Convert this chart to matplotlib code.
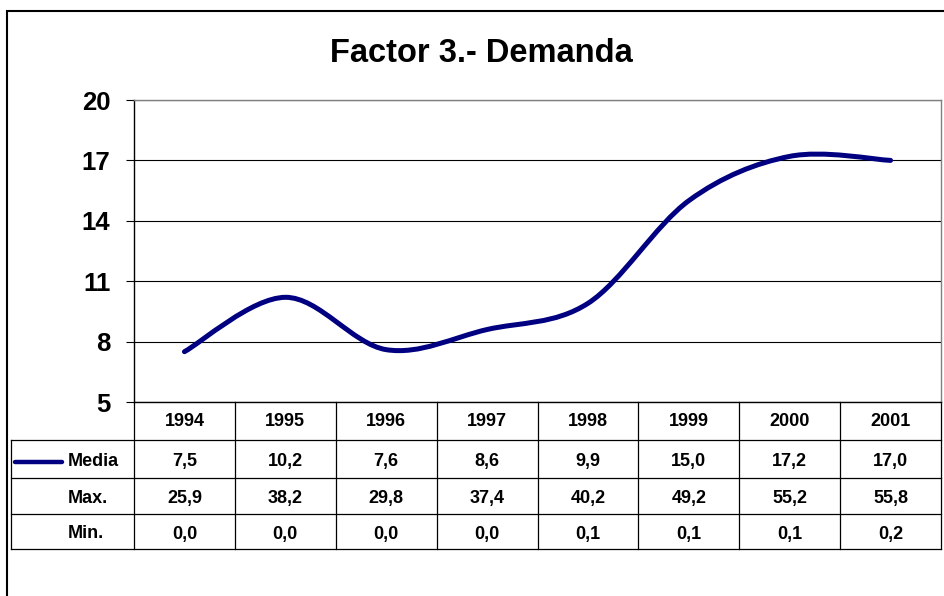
import matplotlib
matplotlib.use('Agg')
import matplotlib.pyplot as plt
from matplotlib.path import Path
from matplotlib.patches import PathPatch, Rectangle
from matplotlib.lines import Line2D

years = ['1994', '1995', '1996', '1997', '1998', '1999', '2000', '2001']
media = [7.5, 10.2, 7.6, 8.6, 9.9, 15.0, 17.2, 17.0]
maximo = [25.9, 38.2, 29.8, 37.4, 40.2, 49.2, 55.2, 55.8]
minimo = [0.0, 0.0, 0.0, 0.0, 0.1, 0.1, 0.1, 0.2]
row_labels = ['Media', 'Max.', 'Min.']
y_ticks = [5, 8, 11, 14, 17, 20]

W, H = 944, 596
NAVY = '#000080'
FONT = 'Liberation Sans'


def fmt(v):
    # spanish decimal comma
    return f'{v:.1f}'.replace('.', ',')


def smooth_path(xs, ys):
    # excel style smoothed line, bezier with catmull-rom control points
    n = len(xs)
    verts = [(xs[0], ys[0])]
    codes = [Path.MOVETO]
    for i in range(n - 1):
        xa, ya = (xs[i - 1], ys[i - 1]) if i > 0 else (xs[i], ys[i])
        xb, yb = (xs[i + 2], ys[i + 2]) if i + 2 < n else (xs[i + 1], ys[i + 1])
        c1 = (xs[i] + (xs[i + 1] - xa) / 6, ys[i] + (ys[i + 1] - ya) / 6)
        c2 = (xs[i + 1] - (xb - xs[i]) / 6, ys[i + 1] - (yb - ys[i]) / 6)
        verts += [c1, c2, (xs[i + 1], ys[i + 1])]
        codes += [Path.CURVE4] * 3
    return Path(verts, codes)


fig = plt.figure(figsize=(W / 100, H / 100), dpi=100)

# axes box in pixels: x 134..941, y 100..402
ax_l, ax_r, ax_t, ax_b = 134, 941, 100, 402
ax = fig.add_axes([ax_l / W, 1 - ax_b / H, (ax_r - ax_l) / W, (ax_b - ax_t) / H])


def ay(py):
    # pixel row -> axes fraction
    return (ax_b - py) / (ax_b - ax_t)


def fx(px):
    return px / W


def fy(py):
    return 1 - py / H


xs = list(range(len(years)))
ax.add_patch(PathPatch(smooth_path(xs, media), facecolor='none',
                       edgecolor=NAVY, lw=3.6, capstyle='round', zorder=3))

ax.set_xlim(-0.5, len(years) - 0.5)
ax.set_ylim(5, 20)
ax.set_yticks(y_ticks)
ax.set_yticklabels([str(t) for t in y_ticks], fontsize=18.5,
                   fontweight='bold', family=FONT)
ax.tick_params(axis='y', length=6, width=0.8, pad=11, color='black')
ax.set_xticks([])
ax.yaxis.grid(True, color='black', lw=0.8)
ax.set_axisbelow(True)
ax.spines['left'].set_color('black')
ax.spines['bottom'].set_color('black')
ax.spines['top'].set_color('#808080')
ax.spines['right'].set_color('#808080')
for s in ax.spines.values():
    s.set_linewidth(1)

# data table below the plot
rows_px = [402, 440, 478, 514, 549]
tr = ax.get_xaxis_transform()
lk = dict(color='black', lw=0.9, clip_on=False)

for i in range(len(years) + 1):
    ax.plot([i - 0.5, i - 0.5], [ay(rows_px[0]), ay(rows_px[-1])], transform=tr, **lk)
for py in rows_px[1:]:
    fig.add_artist(Line2D([fx(11), fx(ax_r)], [fy(py), fy(py)], color='black', lw=0.9))
fig.add_artist(Line2D([fx(11), fx(11)], [fy(rows_px[1]), fy(rows_px[-1])], color='black', lw=0.9))

tk = dict(fontsize=13, fontweight='bold', family=FONT, ha='center', va='center')
for i, yr in enumerate(years):
    ax.text(i, ay((rows_px[0] + rows_px[1]) / 2), yr, transform=tr, **tk)
for r, vals in enumerate([media, maximo, minimo]):
    yp = (rows_px[r + 1] + rows_px[r + 2]) / 2 + 2.5
    for i, v in enumerate(vals):
        ax.text(i, ay(yp), fmt(v), transform=tr, **tk)
    fig.text(fx(68), fy(yp), row_labels[r],
             fontsize=13, fontweight='bold', family=FONT, ha='left', va='center')

# legend key for Media
ym = fy(461.5)
fig.add_artist(Line2D([fx(15), fx(62)], [ym, ym], color=NAVY, lw=3.2,
                      solid_capstyle='round'))

fig.text(fx(481), fy(62), 'Factor 3.- Demanda', fontsize=23.5, fontweight='bold',
         family=FONT, ha='center', va='baseline')

# outer chart frame (runs off the right and bottom edges)
fig.add_artist(Rectangle((fx(7), -0.05), 1.0, fy(11) + 0.05, transform=fig.transFigure,
                         facecolor='none', edgecolor='black', lw=1.5))

fig.savefig('out.png', dpi=100)
